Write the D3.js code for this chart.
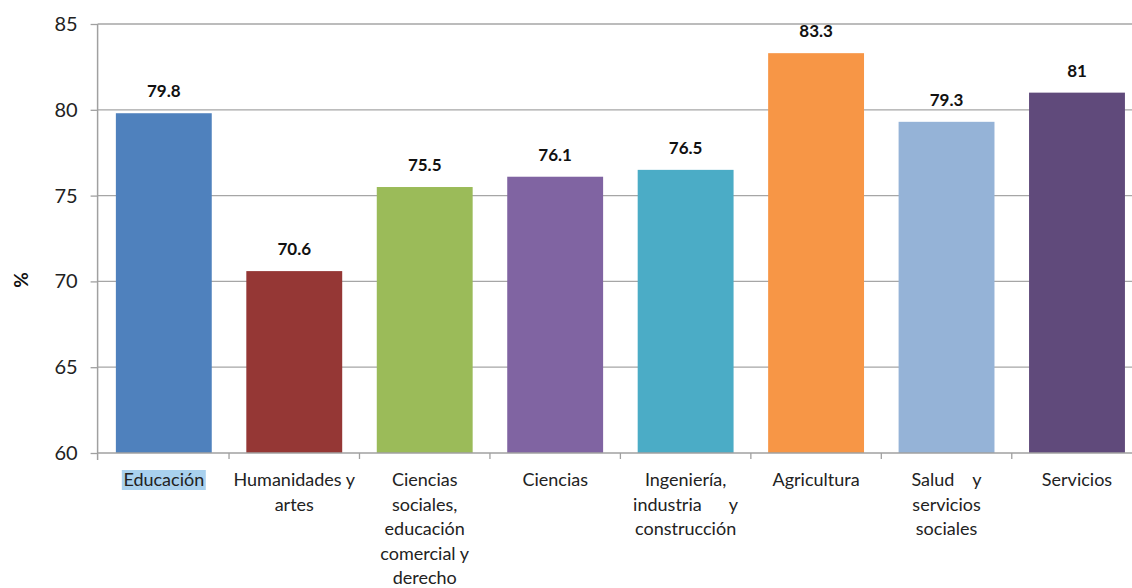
<!DOCTYPE html>
<html><head><meta charset="utf-8">
<script src="https://cdn.jsdelivr.net/npm/d3@7"></script>
<style>body{margin:0;background:#fff}svg{display:block}</style>
</head><body><svg id="c" width="1132" height="588"></svg>
<script>
const categories = ["Educación","Humanidades y artes","Ciencias sociales, educación comercial y derecho","Ciencias","Ingeniería, industria y construcción","Agricultura","Salud y servicios sociales","Servicios"];
const categoryLines = [["Educación"],["Humanidades y","artes"],["Ciencias","sociales,","educación","comercial y","derecho"],["Ciencias"],["Ingeniería,","industria      y","construcción"],["Agricultura"],["Salud    y","servicios","sociales"],["Servicios"]];
const values = [79.8,70.6,75.5,76.1,76.5,83.3,79.3,81];
const valueLabels = ["79.8","70.6","75.5","76.1","76.5","83.3","79.3","81"];
const colors = ["#4f81bd","#953735","#9bbb59","#8064a2","#4bacc6","#f79646","#95b3d7","#604a7b"];
const yTicks = [60,65,70,75,80,85];

const svg = d3.select("#c");
const font = "Lato, 'Open Sans', sans-serif";
const x = d3.scaleBand().domain(categories).range([97.6,1143.2]).paddingInner(0.265).paddingOuter(0.14);
const y = d3.scaleLinear().domain([60,85]).range([453,24]);

// gridlines
svg.append("g").selectAll("line").data(yTicks.filter(d=>d>60)).join("line")
  .attr("x1",97.6).attr("x2",1143).attr("y1",d=>y(d)).attr("y2",d=>y(d))
  .attr("stroke","#a6a6a6").attr("stroke-width",1.3);

// bars
svg.append("g").selectAll("rect").data(categories).join("rect")
  .attr("x",d=>x(d)).attr("width",x.bandwidth())
  .attr("y",(d,i)=>y(values[i])).attr("height",(d,i)=>y(60)-y(values[i]))
  .attr("fill",(d,i)=>colors[i]);

// y axis
const ya = svg.append("g").attr("transform","translate(97.6,0)")
  .call(d3.axisLeft(y).tickValues(yTicks).tickSize(7).tickPadding(13).tickFormat(d3.format("d")));
ya.select(".domain").attr("stroke","#a0a0a0").attr("stroke-width",1.5).attr("d","M0,24V460");
ya.selectAll(".tick line").attr("stroke","#a0a0a0").attr("stroke-width",1.3);
ya.selectAll(".tick text").attr("font-family",font).attr("font-size",20).attr("fill","#222");

// x axis: boundary ticks
const xa = svg.append("g");
xa.append("line").attr("x1",97.6).attr("x2",1143.2).attr("y1",y(60)).attr("y2",y(60))
  .attr("stroke","#a0a0a0").attr("stroke-width",1.5);
const bounds = categories.map((d,i)=>x(d)-x.step()*x.paddingInner()/2).slice(1);
xa.selectAll("line.t").data(bounds).join("line").attr("class","t")
  .attr("x1",d=>d).attr("x2",d=>d).attr("y1",y(60)).attr("y2",y(60)+6)
  .attr("stroke","#a0a0a0").attr("stroke-width",1.3);

// selection highlight behind first label
const cx0 = x(categories[0])+x.bandwidth()/2;
svg.append("rect").attr("x",cx0-42).attr("y",470).attr("width",84).attr("height",20).attr("fill","#a9d1ee");

// category labels
const lab = svg.append("g").attr("font-family",font).attr("font-size",18).attr("fill","#222").attr("text-anchor","middle");
categories.forEach((c,i)=>{
  const t = lab.append("text").attr("x",x(c)+x.bandwidth()/2).attr("y",486).style("white-space","pre");
  categoryLines[i].forEach((ln,j)=>{
    t.append("tspan").attr("x",x(c)+x.bandwidth()/2).attr("y",486+j*24.5).text(ln);
  });
});

// value labels
svg.append("g").selectAll("text").data(categories).join("text")
  .attr("x",d=>x(d)+x.bandwidth()/2).attr("y",(d,i)=>y(values[i])-16)
  .attr("text-anchor","middle").attr("font-family",font).attr("font-weight","bold")
  .attr("font-size",17).attr("fill","#111").text((d,i)=>valueLabels[i]);

// y label
svg.append("text").attr("transform","translate(28,280) rotate(-90)").attr("text-anchor","middle")
  .attr("font-family",font).attr("font-weight","bold").attr("font-size",19).attr("fill","#111").text("%");
</script></body></html>
